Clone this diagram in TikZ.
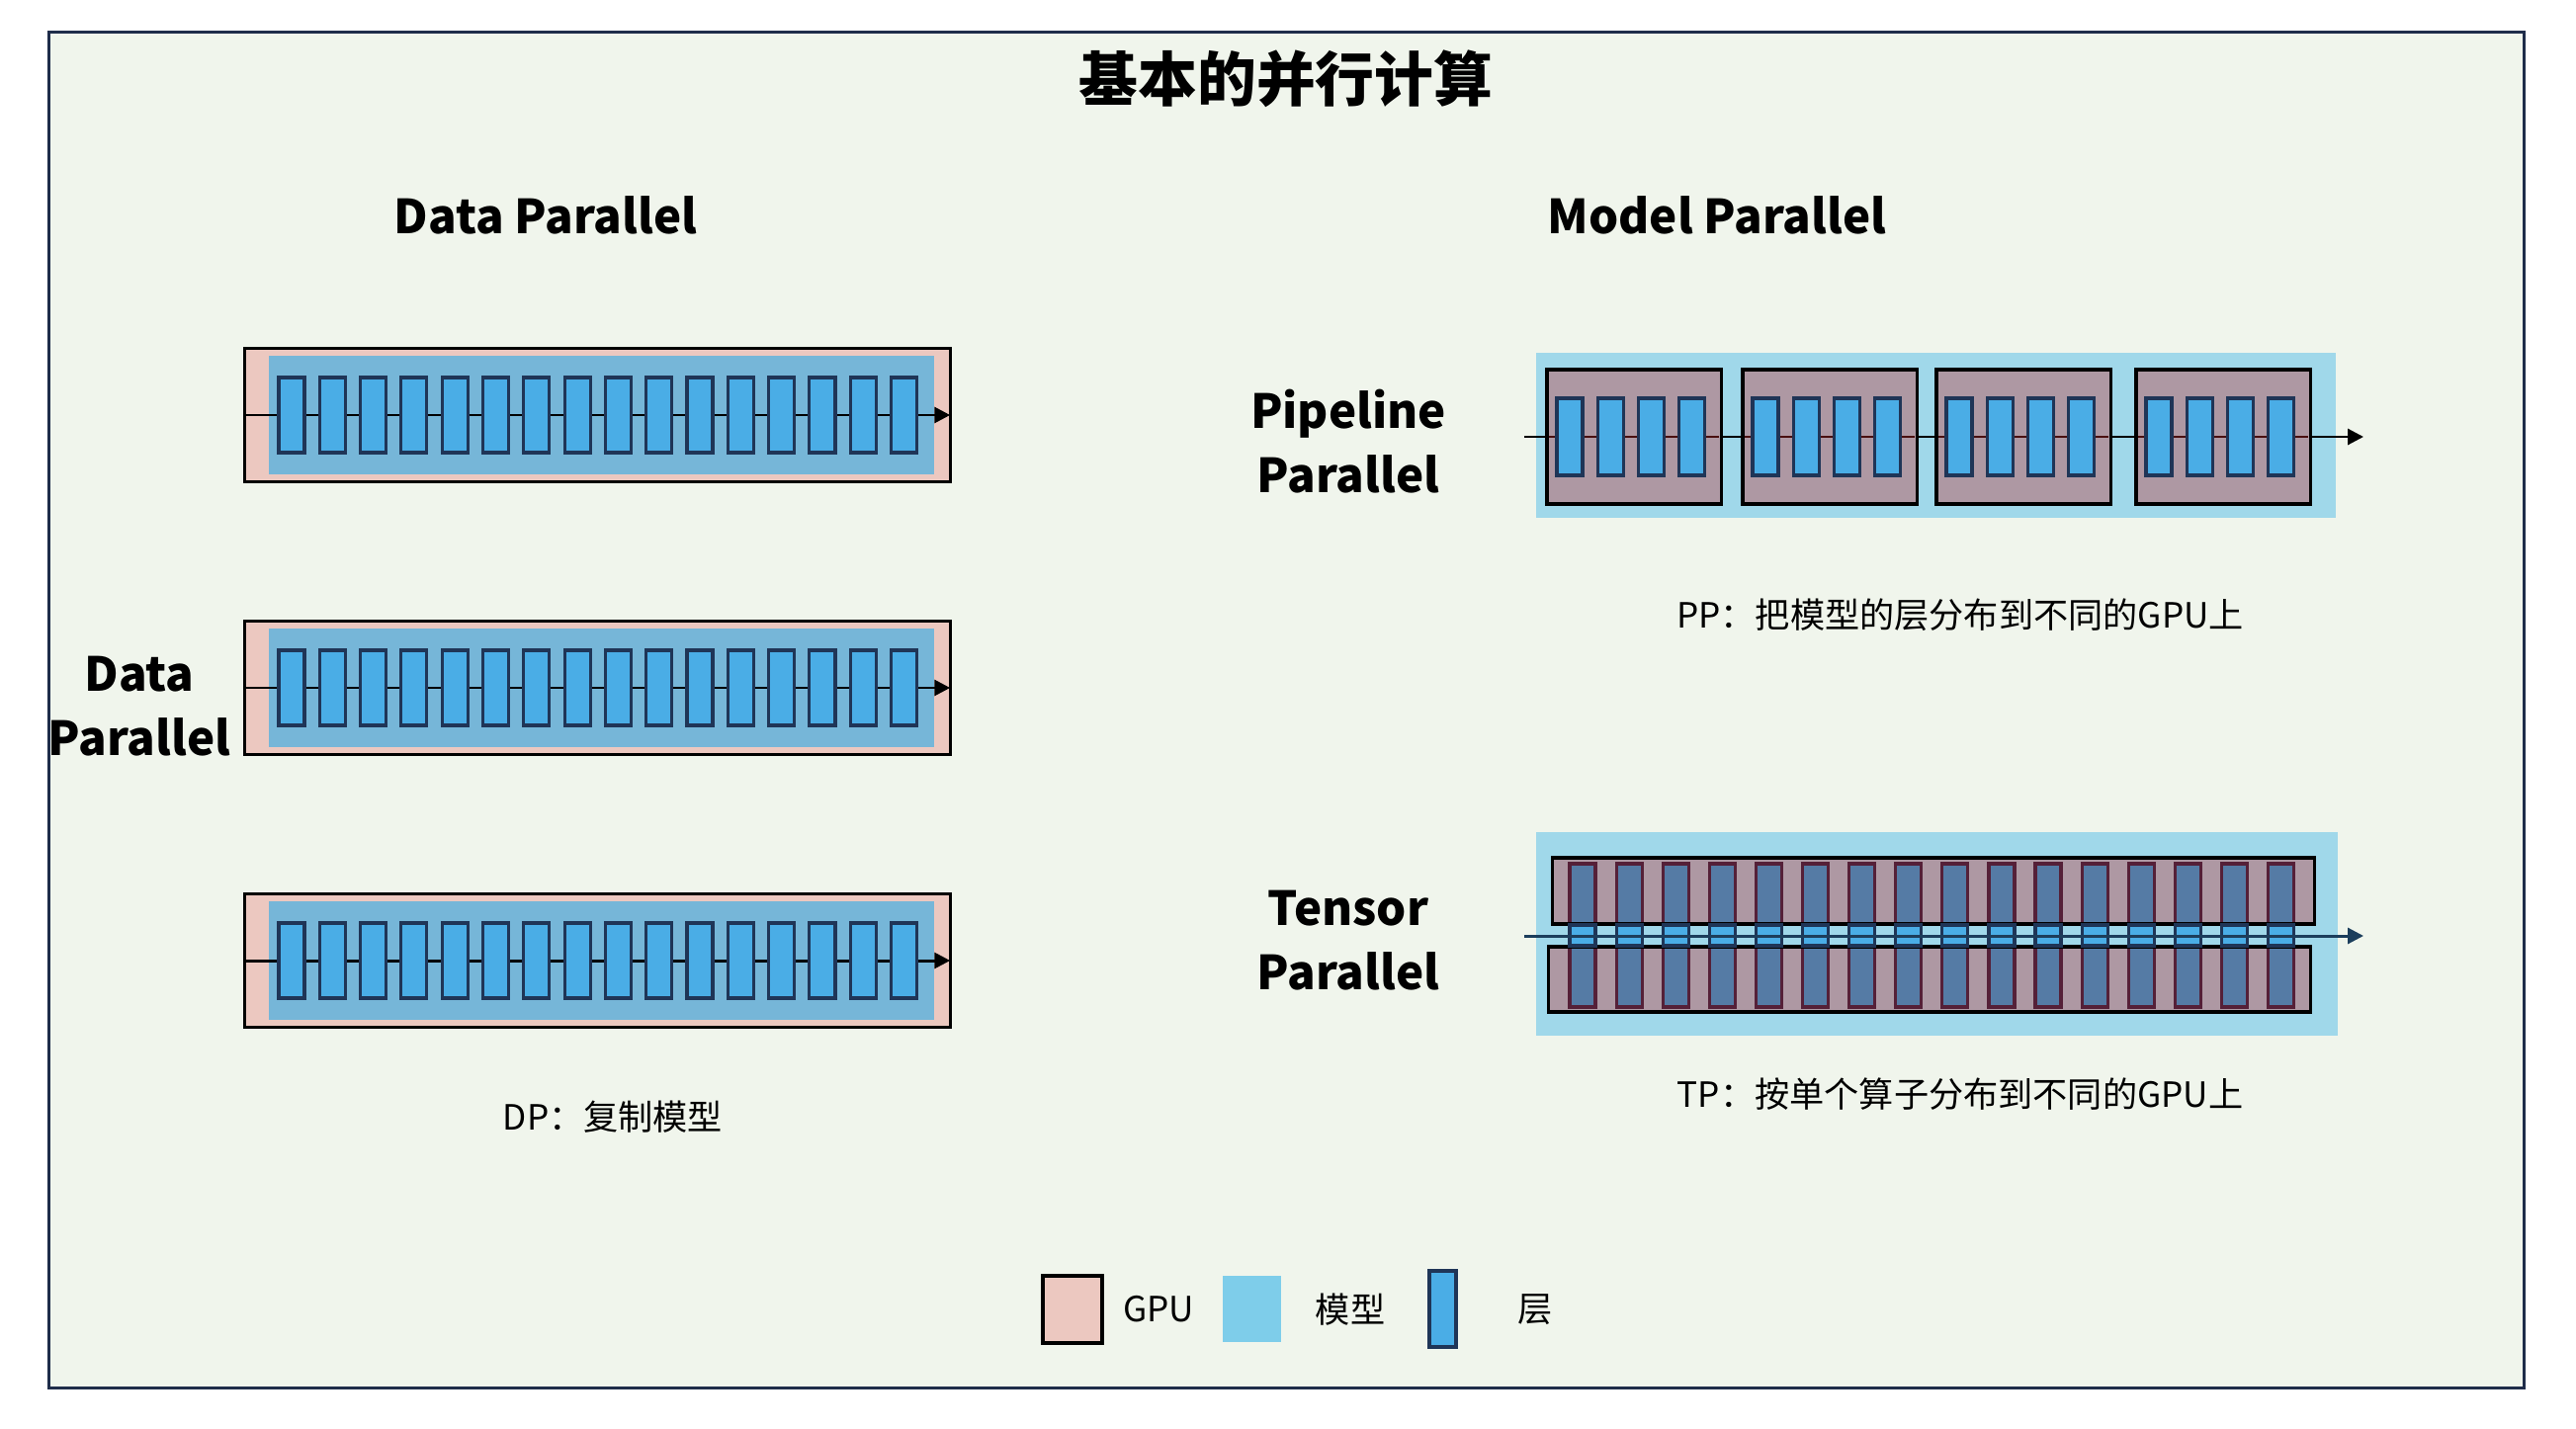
\documentclass[tikz,border=0pt]{standalone}
\usepackage{fontspec}
\setmainfont{Noto Sans CJK SC}
\usetikzlibrary{arrows.meta}
\definecolor{framebg}{HTML}{F0F5EC}
\definecolor{frameline}{HTML}{1F2D4A}
\definecolor{gpupink}{HTML}{ECC8C0}
\definecolor{gpumauve}{HTML}{AE98A3}
\definecolor{dpblue}{HTML}{76B6D8}
\definecolor{mpblue}{HTML}{A0D8EA}
\definecolor{legblue}{HTML}{7ECDEA}
\definecolor{layerblue}{HTML}{4AADE6}
\definecolor{layerline}{HTML}{1F3557}
\definecolor{tpdark}{HTML}{557BA5}
\definecolor{tpmaroon}{HTML}{552038}
\definecolor{pplink}{HTML}{4A1010}
\definecolor{tpline}{HTML}{1C3E5C}
\tikzset{box/.style={rectangle,inner sep=0pt,outer sep=0pt}}
\tikzset{frame/.style={box,draw=frameline,line width=0.9pt,fill=framebg,
                       minimum width=25.03cm,minimum height=13.71cm}}
\tikzset{gpu/.style={box,draw=black,line width=0.9pt,fill=gpupink}}
\tikzset{dpmodel/.style={box,fill=dpblue,minimum width=6.73cm,minimum height=1.19cm}}
\tikzset{mpmodel/.style={box,fill=mpblue}}
\tikzset{layer/.style={box,draw=layerline,line width=0.9pt,fill=layerblue,minimum width=0.26cm}}
\tikzset{tplayer/.style={box,draw=tpmaroon,line width=0.9pt,fill=tpdark,minimum width=0.26cm}}
\tikzset{heading/.style={font=\fontsize{13.5}{18.5}\selectfont\bfseries}}
\tikzset{caption/.style={font=\fontsize{10}{12}\selectfont}}
\tikzset{flow/.style={line width=0.85pt,-{Triangle[length=4.5pt,width=4.5pt]}}}

\begin{document}
\begin{tikzpicture}[x=0.01cm,y=-0.01cm]
    \useasboundingbox (0,0) rectangle (2606,1446);
    \node[frame] (frame) at (1301.5,718.5) {};
    \node[font=\fontsize{17}{20}\selectfont\bfseries] (title) at (1301,80) {基本的并行计算};
    \node[heading] (dphead) at (552,218) {Data Parallel};
    \node[heading] (mphead) at (1737,218) {Model Parallel};

    % Data parallel: the same model on every GPU
    \foreach \r [count=\ri] in {420,696,972}{%
          \node[gpu,minimum width=7.13cm,minimum height=1.35cm] (dpg\ri) at (604.5,\r) {};
          \node[dpmodel] (dpm\ri) at (608.5,\r) {};
          \draw[flow] (dpg\ri.west) -- (dpg\ri.east);
          \foreach \i in {0,...,15}
            \node[layer,minimum height=0.76cm] (dpl\ri-\i) at (295+41.3*\i,\r) {};
        }
    \node[heading,align=center] (dplabel) at (141,715) {Data\\Parallel};
    \node[caption] (dpcap) at (620,1130) {DP：复制模型};

    % Pipeline parallel
    \node[mpmodel,minimum width=8.09cm,minimum height=1.67cm] (ppm) at (1958.5,440.5) {};
    \coordinate (ppin) at (1542,442);
    \coordinate (ppout) at (2391,442);
    \draw[flow] (ppin) -- (ppout);
    \foreach \x [count=\gi] in {1565,1763,1959,2161}{%
          \node[gpu,fill=gpumauve,anchor=west,minimum width=1.76cm,minimum height=1.36cm]
                (ppg\gi) at (\x,442) {};
          \draw[pplink,line width=0.85pt,shorten <=0.5pt,shorten >=0.5pt]
                (ppg\gi.west) -- (ppg\gi.east);
          \foreach \i in {0,...,3}
            \node[layer,minimum height=0.78cm] (ppl\gi-\i) at (\x+23+41.2*\i,442) {};
        }
    \node[heading,align=center] (pplabel) at (1364,447) {Pipeline\\Parallel};
    \node[caption] (ppcap) at (1983,622) {PP：把模型的层分布到不同的GPU上};

    % Tensor parallel
    \node[mpmodel,minimum width=8.11cm,minimum height=2.06cm] (tpm) at (1959.5,945) {};
    \node[box,fill=gpumauve,minimum width=7.70cm,minimum height=0.67cm] (tpu) at (1956,901.5) {};
    \node[box,fill=gpumauve,minimum width=7.70cm,minimum height=0.66cm] (tpd) at (1952,991) {};
    \foreach \i in {0,...,15}{%
          \node[tplayer,minimum height=0.61cm] (tpul\i) at (1601+47.1*\i,904.5) {};
          \node[tplayer,minimum height=0.61cm] (tpdl\i) at (1601+47.1*\i,988.5) {};
        }
    \draw[line width=0.9pt] (tpu.south west) rectangle (tpu.north east);
    \draw[line width=0.9pt] (tpd.south west) rectangle (tpd.north east);
    \foreach \i in {0,...,15}
      \node[layer,minimum height=0.21cm] (tpcl\i) at (1601+47.1*\i,946.5) {};
    \coordinate (tpin) at (1542,947);
    \coordinate (tpout) at (2391,947);
    \draw[flow,tpline] (tpin) -- (tpout);
    \node[heading,align=center] (tplabel) at (1364,952) {Tensor\\Parallel};
    \node[caption] (tpcap) at (1983,1107) {TP：按单个算子分布到不同的GPU上};

    % Legend
    \node[gpu,minimum width=0.60cm,minimum height=0.68cm] (leggpu) at (1085,1325) {};
    \node[caption,anchor=west] (leggputext) at (1124,1325) {GPU};
    \node[box,fill=legblue,minimum width=0.59cm,minimum height=0.67cm] (legmodel) at (1266.5,1324.5) {};
    \node[caption] (legmodeltext) at (1366,1325) {模型};
    \node[layer,minimum width=0.27cm,minimum height=0.77cm] (leglayer) at (1459.5,1324.5) {};
    \node[caption] (leglayertext) at (1553,1325) {层};
\end{tikzpicture}
\end{document}
